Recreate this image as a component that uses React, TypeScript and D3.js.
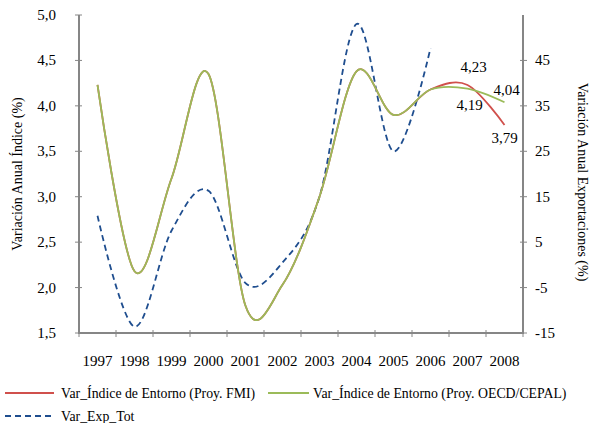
import React from "react";
import * as d3 from "d3";

const years = ["1997", "1998", "1999", "2000", "2001", "2002", "2003", "2004", "2005", "2006", "2007", "2008"];
const indiceFMI = [4.23, 2.18, 3.2, 4.35, 1.8, 2.03, 3.0, 4.38, 3.9, 4.18, 4.23, 3.79];
const indiceOECD = [4.23, 2.18, 3.2, 4.35, 1.8, 2.03, 3.0, 4.38, 3.9, 4.18, 4.19, 4.04];
const expTot = [10.8, -13.6, 7.5, 16.3, -4, 0.5, 15, 53, 25, 47.7];
const leftTicks = [1.5, 2.0, 2.5, 3.0, 3.5, 4.0, 4.5, 5.0];
const rightTicks = [-15, -5, 5, 15, 25, 35, 45];
const labelsFMI = [{ i: 10, dx: 6, dy: -13 }, { i: 11, dx: 0, dy: 18 }];
const labelsOECD = [{ i: 10, dx: 2, dy: 21 }, { i: 11, dx: 2, dy: -7 }];

const W = 608;
const H = 423;
const AXIS = "#868686";
const RED = "#D0504C";
const GREEN = "#9BBB59";
const BLUE = "#1F4E8F";

function T(props: any) {
  const { children, size = 15, ...rest } = props;
  return (
    <text fontFamily="Liberation Serif" fontSize={size} fill="#000" style={{ fontFamily: "Liberation Serif", fontSize: size }} {...rest}>
      {children}
    </text>
  );
}

export default function App() {
  const left = 79, right = 523, top = 15, bottom = 333;
  const x = d3.scaleBand<string>().domain(years).range([left, right]);
  const xc = (i: number) => (x(years[i]) as number) + x.bandwidth() / 2;
  const yL = d3.scaleLinear().domain([1.5, 5.0]).range([bottom, top]);
  const yR = d3.scaleLinear().domain([-15, 55]).range([bottom, top]);
  const curve = d3.curveCardinal.tension(0);
  const lineL = d3.line<number>().x((_, i) => xc(i)).y((d) => yL(d)).curve(curve);
  const lineR = d3.line<number>().x((_, i) => xc(i)).y((d) => yR(d)).curve(curve);
  const fmt = (v: number) => v.toFixed(2).replace(".", ",");
  const fmt1 = (v: number) => v.toFixed(1).replace(".", ",");
  const bounds = years.map((y) => x(y) as number).concat([right]);

  return (
    <svg width={W} height={H} style={{ position: "absolute", left: 0, top: 0, background: "#fff" }}>
      <rect x={0} y={0} width={W} height={H} fill="#fff" />
      <line x1={left} x2={left} y1={top} y2={bottom + 1} stroke={AXIS} strokeWidth={2} />
      <line x1={right} x2={right} y1={top} y2={bottom + 1} stroke={AXIS} strokeWidth={2} />
      <line x1={left} x2={right} y1={bottom} y2={bottom} stroke={AXIS} strokeWidth={2} />
      {leftTicks.map((t) => (
        <g key={"l" + t}>
          <line x1={left - 4} x2={left + 3} y1={yL(t)} y2={yL(t)} stroke={AXIS} strokeWidth={1} />
          <T x={56} y={yL(t) + 5} textAnchor="end">{fmt1(t)}</T>
        </g>
      ))}
      {rightTicks.map((t) => (
        <g key={"r" + t}>
          <line x1={right - 3} x2={right + 4} y1={yR(t)} y2={yR(t)} stroke={AXIS} strokeWidth={1} />
          <T x={535} y={yR(t) + 5} textAnchor="start">{String(t)}</T>
        </g>
      ))}
      {bounds.map((b, i) => (
        <line key={"xt" + i} x1={b} x2={b} y1={bottom - 3} y2={bottom + 4} stroke={AXIS} strokeWidth={1} />
      ))}
      {years.map((y, i) => (
        <T key={y} x={xc(i)} y={366} textAnchor="middle">{y}</T>
      ))}
      <T transform={`translate(22,${(top + bottom) / 2}) rotate(-90)`} textAnchor="middle" size={14}>
        Variación Anual Índice (%)
      </T>
      <T transform={`translate(578,${(top + bottom) / 2 + 8}) rotate(90)`} textAnchor="middle" size={14}>
        Variación Anual Exportaciones (%)
      </T>
      <path d={lineR(expTot) || ""} fill="none" stroke={BLUE} strokeWidth={1.8} strokeDasharray="6,4" />
      <path d={lineL(indiceFMI) || ""} fill="none" stroke={RED} strokeWidth={1.8} />
      <path d={lineL(indiceOECD) || ""} fill="none" stroke={GREEN} strokeWidth={1.8} />
      {labelsFMI.map((l) => (
        <T key={"f" + l.i} x={xc(l.i) + l.dx} y={yL(indiceFMI[l.i]) + l.dy} textAnchor="middle">
          {fmt(indiceFMI[l.i])}
        </T>
      ))}
      {labelsOECD.map((l) => (
        <T key={"o" + l.i} x={xc(l.i) + l.dx} y={yL(indiceOECD[l.i]) + l.dy} textAnchor="middle">
          {fmt(indiceOECD[l.i])}
        </T>
      ))}
      <line x1={5} x2={54} y1={393} y2={393} stroke={RED} strokeWidth={1.8} />
      <T x={61} y={398} size={13.8}>Var_Índice de Entorno (Proy. FMI)</T>
      <line x1={268} x2={309} y1={393} y2={393} stroke={GREEN} strokeWidth={1.8} />
      <T x={313} y={398} size={13.8}>Var_Índice de Entorno (Proy. OECD/CEPAL)</T>
      <line x1={5} x2={54} y1={416} y2={416} stroke={BLUE} strokeWidth={1.8} strokeDasharray="6,4" />
      <T x={61} y={421} size={13.8}>Var_Exp_Tot</T>
    </svg>
  );
}
